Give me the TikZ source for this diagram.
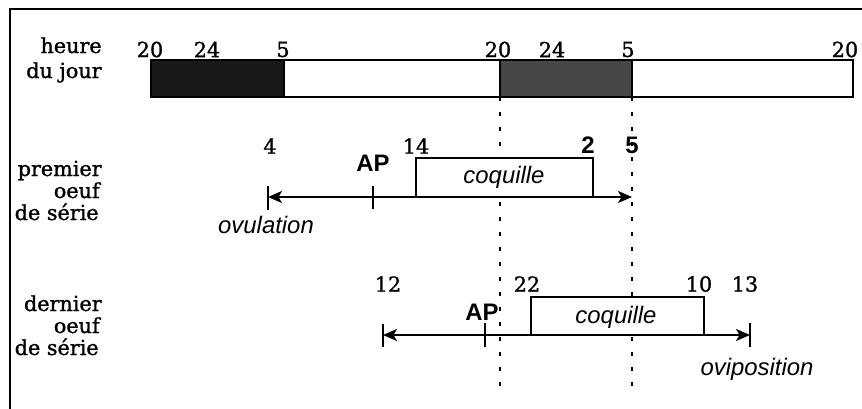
\documentclass[tikz,border=0pt]{standalone}
\usepackage{fontspec}
\newfontfamily\serifmed{DejaVu Serif}[UprightFeatures={FakeBold=1.2}]
\newfontfamily\labsans{Liberation Sans}
\usetikzlibrary{arrows.meta}
\begin{document}
\begin{tikzpicture}[x=0.02cm,y=-0.02cm,
  serif/.style={font=\serifmed\fontsize{11.8}{14}\selectfont, inner sep=0pt},
  sansit/.style={font=\labsans\itshape\fontsize{13.6}{16}\selectfont, inner sep=0pt},
  sansb/.style={font=\labsans\bfseries\fontsize{13.6}{16}\selectfont, inner sep=0pt},
  rowlab/.style={serif, anchor=base east},
  hourlab/.style={serif},
  axisline/.style={line width=1.1pt, {Stealth[length=0.28cm,width=0.24cm,inset=0.07cm]}-{Stealth[length=0.28cm,width=0.24cm,inset=0.07cm]}},
  tickline/.style={line width=1.4pt},
  shellbox/.style={draw, fill=white, line width=1.2pt},
  guide/.style={line width=1.2pt, dash pattern=on 0.08cm off 0.22cm},
  barseg/.style={draw, line width=0.9pt}
]
\useasboundingbox (0,0) rectangle (862,409);
% frame
\coordinate (fbl) at (10,409);
\coordinate (ftl) at (10,9);
\coordinate (ftr) at (862,9);
\draw[line width=1.5pt] (fbl) -- (ftl) -- (ftr);

% left labels
\node[rowlab] (l1) at (102,53) {heure};
\node[rowlab] (l2) at (102,78) {du jour};
\node[rowlab] (l3) at (102,176) {premier};
\node[rowlab] (l4) at (100,198) {oeuf};
\node[rowlab] (l5) at (99,220) {de série};
\node[rowlab] (l6) at (102,311) {dernier};
\node[rowlab] (l7) at (100,333) {oeuf};
\node[rowlab] (l8) at (99,355) {de série};

% hour labels
\node[hourlab] (h1) at (150,49.5) {20};
\node[hourlab] (h2) at (207,49.5) {24};
\node[hourlab] (h3) at (283,49.5) {5};
\node[hourlab] (h4) at (498,49.5) {20};
\node[hourlab] (h5) at (552,49.5) {24};
\node[hourlab] (h6) at (628,49.5) {5};
\node[hourlab] (h7) at (845,49.5) {20};

% day bar
\draw[barseg, fill=black!90] (151,60) rectangle (284,97);
\draw[barseg, fill=white] (284,60) rectangle (500,97);
\draw[barseg, fill=black!72] (500,60) rectangle (632,97);
\draw[barseg, fill=white] (632,60) rectangle (853,97);

% guides
\coordinate (g1a) at (500,97);
\coordinate (g1b) at (500,388);
\coordinate (g2a) at (632,97);
\coordinate (g2b) at (632,388);
\draw[guide] (g1a) -- (g1b);
\draw[guide] (g2a) -- (g2b);

% row 1: premier oeuf
\coordinate (r1a) at (268,197);
\coordinate (r1b) at (632,197);
\coordinate (b1s) at (416,197);
\coordinate (b1n) at (593,158);
\draw[shellbox] (b1s) rectangle (b1n);
\node[sansit, anchor=base] (c1) at (504,183) {coquille};
\draw[axisline] (r1a) -- (r1b);
\coordinate (t1a) at (268,186);
\coordinate (t1b) at (268,210);
\draw[tickline] (t1a) -- (t1b);
\coordinate (t2a) at (373,186);
\coordinate (t2b) at (373,209);
\draw[tickline] (t2a) -- (t2b);
\node[hourlab] (n4) at (270,146) {4};
\node[hourlab] (n14) at (416,146) {14};
\node[sansb] (n2) at (588,145) {2};
\node[sansb] (n5) at (632,145) {5};
\node[sansb] (ap1) at (373,163) {AP};
\node[sansit, anchor=base] (ovu) at (266,233) {ovulation};

% row 2: dernier oeuf
\coordinate (r2a) at (383,335);
\coordinate (r2b) at (750,335);
\coordinate (b2s) at (531,335);
\coordinate (b2n) at (704,297);
\draw[shellbox] (b2s) rectangle (b2n);
\node[sansit, anchor=base] (c2) at (616,323) {coquille};
\draw[axisline] (r2a) -- (r2b);
\coordinate (t3a) at (383,324);
\coordinate (t3b) at (383,347);
\draw[tickline] (t3a) -- (t3b);
\coordinate (t4a) at (485,323);
\coordinate (t4b) at (485,347);
\draw[tickline] (t4a) -- (t4b);
\coordinate (t5a) at (750,323);
\coordinate (t5b) at (750,347);
\draw[tickline] (t5a) -- (t5b);
\node[hourlab] (n12) at (388,284) {12};
\node[hourlab] (n22) at (527,284) {22};
\node[hourlab] (n10) at (699,284) {10};
\node[hourlab] (n13) at (745,284) {13};
\node[sansb] (ap2) at (482,312) {AP};
\node[sansit, anchor=base] (ovi) at (757,375) {oviposition};
\end{tikzpicture}
\end{document}
